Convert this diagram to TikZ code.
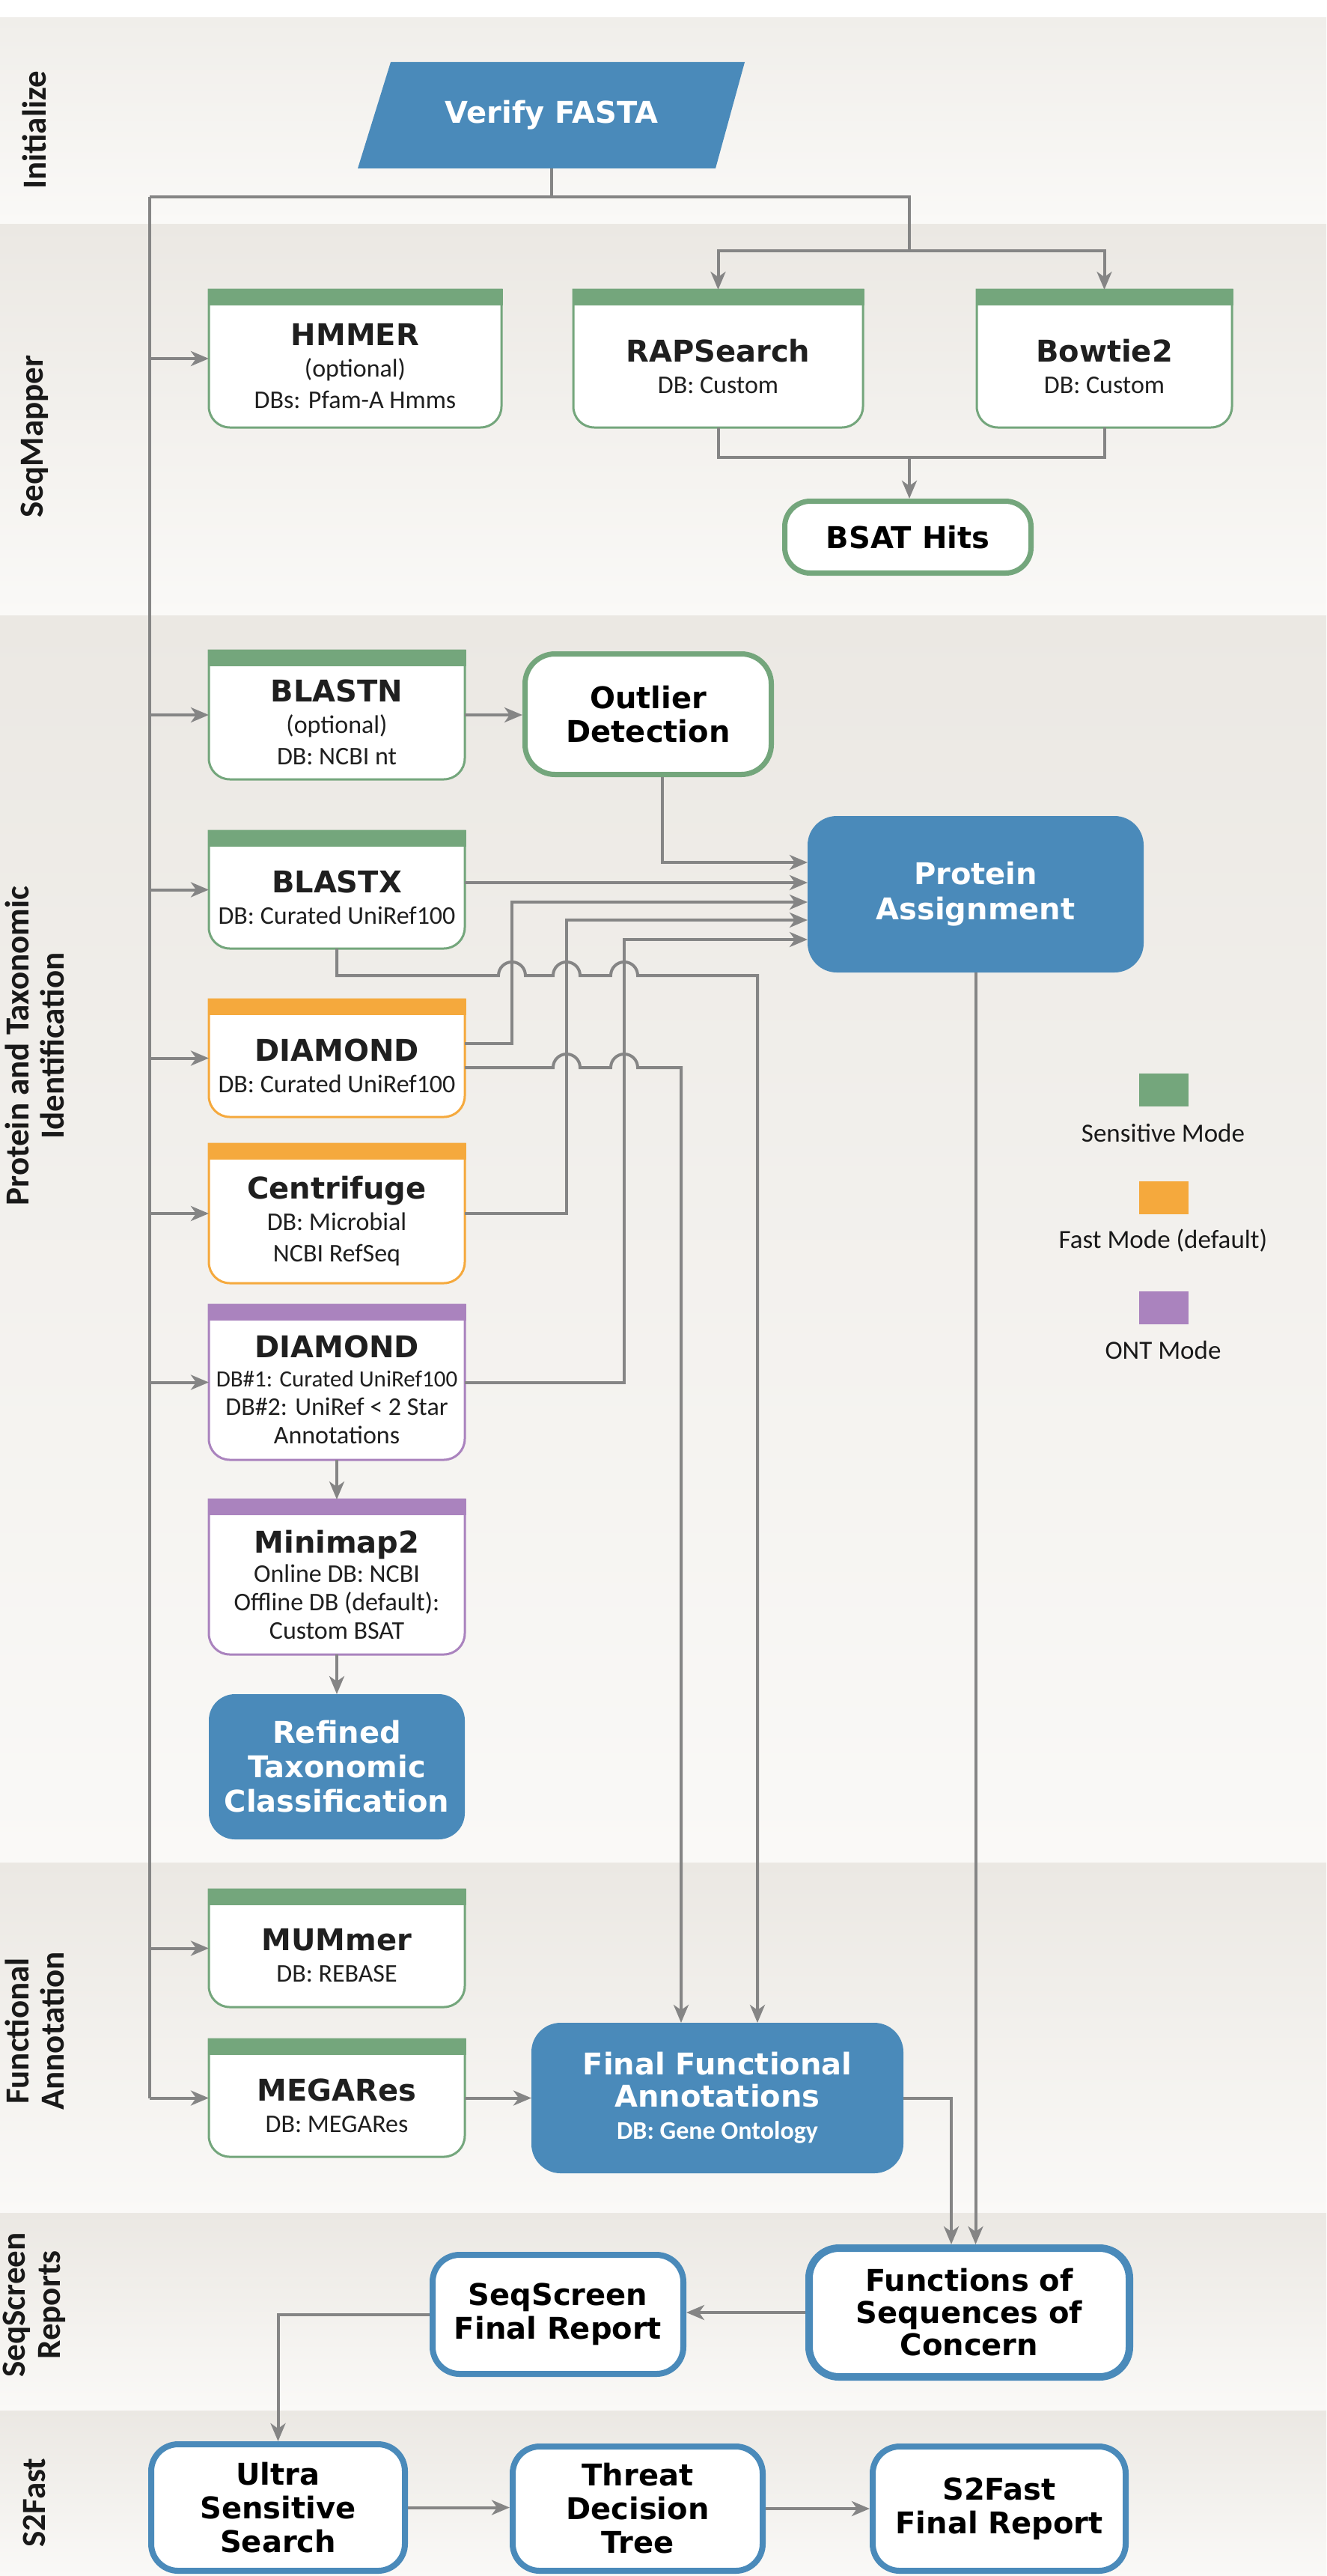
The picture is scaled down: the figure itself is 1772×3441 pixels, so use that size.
\documentclass[tikz,border=0pt]{standalone}
\usepackage{fontspec}
\usetikzlibrary{arrows.meta,calc}
\newfontfamily\titlefam{DejaVu Sans}
\newfontfamily\subfam{Carlito}
\newcommand\tfs{\titlefam\bfseries\fontsize{40pt}{45pt}\selectfont}
\newcommand\sfs{\subfam\fontsize{34pt}{42pt}\selectfont}
\newcommand\narrowsub{\subfam\fontsize{31pt}{42pt}\selectfont}
\definecolor{cgreen}{HTML}{74A67C}
\definecolor{corange}{HTML}{F5A93D}
\definecolor{cpurple}{HTML}{AA83BE}
\definecolor{cblue}{HTML}{4A8ABA}
\definecolor{cline}{HTML}{858585}
\definecolor{bandtop}{HTML}{EBE8E3}
\definecolor{bandbot}{HTML}{FAF9F7}
\definecolor{inittop}{HTML}{F0EEEA}

\tikzset{
  conn/.style={draw=cline, line width=4pt},
  arr/.style={conn, -{Stealth[length=24pt,width=20pt,inset=7pt]}},
  boxarea/.style={rectangle, draw=none, inner sep=0pt, outer sep=0pt},
  tooltext/.style={align=center, font=\sfs, text=black!88, inner sep=0pt},
  bluebox/.style={rectangle, rounded corners=38pt, fill=cblue, draw=cblue, line width=2pt, text=white, font=\tfs, align=center, inner sep=0pt},
  whitebox/.style={rectangle, rounded corners=36pt, fill=white, line width=8pt, align=center, font=\tfs, text=black, inner sep=0pt},
  bandlbl/.style={rotate=90, font=\subfam\bfseries\fontsize{45pt}{47pt}\selectfont, align=center, inner sep=0pt, text=black!90},
  legsq/.style={rectangle, minimum width=66pt, minimum height=44pt, inner sep=0pt},
  legtext/.style={font=\subfam\fontsize{35pt}{40pt}\selectfont, inner sep=0pt, text=black!90},
}

% #1 name, #2 x1, #3 y1, #4 x2, #5 y2, #6 colour, #7 text
\newcommand\toolbox[7]{%
  \path[fill=white, draw=#6, line width=3pt] (#2,#3) -- (#4,#3) -- (#4,#5-28)
     arc[start angle=0,end angle=90,radius=28] -- (#2+28,#5)
     arc[start angle=90,end angle=180,radius=28] -- cycle;
  \fill[#6] (#2-1.5,#3-1.5) rectangle (#4+1.5,#3+21);
  \node[boxarea, minimum width=#4-#2, minimum height=#5-#3] (#1) at ({(#2+#4)/2},{(#3+#5)/2}) {};
  \node[tooltext] (#1-t) at ($(#1.center)+(0,10)$) {#7};
}

\begin{document}
\begin{tikzpicture}[x=1pt,y=-1pt]
\useasboundingbox (0,0) rectangle (1772,3441);
\fill[white] (0,0) rectangle (1772,3441);
% bands
\shade[top color=inittop, bottom color=bandbot] (0,24) rectangle (1772,299);
\shade[top color=bandtop, bottom color=bandbot] (0,299) rectangle (1772,822);
\shade[top color=bandtop, bottom color=bandbot] (0,822) rectangle (1772,2488);
\shade[top color=bandtop, bottom color=bandbot] (0,2488) rectangle (1772,2956);
\shade[top color=bandtop, bottom color=bandbot] (0,2956) rectangle (1772,3220);
\shade[top color=bandtop, bottom color=bandbot] (0,3220) rectangle (1772,3441);

% band labels
\node[bandlbl] (lab-init) at (46,174) {Initialize};
\node[bandlbl] (lab-seqm) at (46,583) {SeqMapper};
\node[bandlbl] (lab-prot) at (46,1397) {Protein and Taxonomic\\Identification};
\node[bandlbl] (lab-func) at (46,2713) {Functional\\Annotation};
\node[bandlbl] (lab-rep) at (46,3079) {SeqScreen\\Reports};
\node[bandlbl] (lab-s2f) at (46,3343) {S2Fast};

% Verify FASTA
\fill[cblue] (522,83) -- (995,83) -- (956,225) -- (478,225) -- cycle;
\node[boxarea, minimum width=440pt, minimum height=142pt, text=white, font=\tfs] (verify) at (737,154) {Verify FASTA};

% tool boxes
\toolbox{hmmer}{279}{387}{670}{571}{cgreen}{{\tfs HMMER}\\(optional)\\DBs: Pfam-A Hmms}
\toolbox{rap}{766}{387}{1153}{571}{cgreen}{{\tfs RAPSearch}\\DB: Custom}
\toolbox{bow}{1305}{387}{1646}{571}{cgreen}{{\tfs Bowtie2}\\DB: Custom}
\toolbox{blastn}{279}{869}{621}{1041}{cgreen}{{\tfs BLASTN}\\(optional)\\DB: NCBI nt}
\toolbox{blastx}{279}{1110}{621}{1267}{cgreen}{{\tfs BLASTX}\\DB: Curated UniRef100}
\toolbox{diao}{279}{1335}{621}{1492}{corange}{{\tfs DIAMOND}\\DB: Curated UniRef100}
\toolbox{centri}{279}{1528}{621}{1714}{corange}{{\tfs Centrifuge}\\DB: Microbial\\NCBI RefSeq}
\toolbox{diap}{279}{1743}{621}{1950}{cpurple}{{\tfs DIAMOND}\\[-3pt]{\narrowsub DB\#1: Curated UniRef100}\\[-4pt]DB\#2: UniRef < 2 Star\\[-4pt]Annotations}
\toolbox{minimap}{279}{2003}{621}{2210}{cpurple}{{\tfs Minimap2}\\[-3pt]Online DB: NCBI\\[-4pt]Offline DB (default):\\[-4pt]Custom BSAT}
\toolbox{mummer}{279}{2524}{621}{2681}{cgreen}{{\tfs MUMmer}\\DB: REBASE}
\toolbox{megares}{279}{2724}{621}{2881}{cgreen}{{\tfs MEGARes}\\DB: MEGARes}

% other boxes
\node[whitebox, draw=cgreen, line width=7pt, rounded corners=34pt, minimum width=329pt, minimum height=96pt] (bsat) at (1213,717.5) {BSAT Hits};
\node[whitebox, draw=cgreen, line width=7pt, rounded corners=40pt, minimum width=329pt, minimum height=161pt] (outlier) at (866,954) {Outlier\\Detection};
\node[bluebox, minimum width=447pt, minimum height=207pt, font=\titlefam\bfseries\fontsize{40pt}{47pt}\selectfont] (pa) at (1303.5,1194.5) {Protein\\Assignment};
\node[bluebox, minimum width=340pt, minimum height=192pt, rounded corners=34pt, font=\titlefam\bfseries\fontsize{40pt}{46pt}\selectfont] (refined) at (450,2360) {Refined\\Taxonomic\\Classification};
\node[bluebox, minimum width=495pt, minimum height=199pt, font=\titlefam\bfseries\fontsize{40pt}{43pt}\selectfont] (ffa) at (958.5,2802.5) {Final Functional\\Annotations\\{\sfs DB: Gene Ontology}};
\node[whitebox, draw=cblue, line width=10pt, rounded corners=40pt, minimum width=428pt, minimum height=172pt, font=\titlefam\bfseries\fontsize{40pt}{43pt}\selectfont] (functions) at (1295,3089) {Functions of\\Sequences of\\Concern};
\node[whitebox, draw=cblue, minimum width=335pt, minimum height=159pt] (seqfr) at (745.5,3091.5) {SeqScreen\\Final Report};
\node[whitebox, draw=cblue, minimum width=339pt, minimum height=169pt] (ultra) at (371.5,3349.5) {Ultra\\Sensitive\\Search};
\node[whitebox, draw=cblue, minimum width=334pt, minimum height=166pt] (threat) at (852,3351) {Threat\\Decision\\Tree};
\node[whitebox, draw=cblue, minimum width=338pt, minimum height=166pt] (s2fr) at (1335,3351) {S2Fast\\Final Report};

% legend
\node[legsq, fill=cgreen] (lg1) at (1555,1456) {};
\node[legtext] (lg1t) at (1554,1513) {Sensitive Mode};
\node[legsq, fill=corange] (lg2) at (1555,1600) {};
\node[legtext] (lg2t) at (1554,1657) {Fast Mode (default)};
\node[legsq, fill=cpurple] (lg3) at (1555,1747) {};
\node[legtext] (lg3t) at (1554,1803) {ONT Mode};

% coordinates
\coordinate (trunk) at (200,263);
\coordinate (rbr) at (1215,263);
\coordinate (rsplit) at (1215,335);
\coordinate (mrg) at (1215,611);
\coordinate (y1) at (0,1152);
\coordinate (y2) at (0,1179);
\coordinate (y3) at (0,1205);
\coordinate (y4) at (0,1229);
\coordinate (y5) at (0,1255);
\coordinate (yo1) at (0,1394);
\coordinate (yo2) at (0,1426);
\coordinate (hx1) at (684,0);
\coordinate (hx2) at (757,0);
\coordinate (hx3) at (834,0);
\coordinate (vx1) at (910,1426);
\coordinate (vx2) at (1012,1303);
\coordinate (fx) at (1271,2802);

% connectors: initialize / seqmapper
\draw[conn] (verify.south) -- (verify.south |- trunk);
\draw[conn] (trunk) -- (rbr) -- (rsplit);
\draw[arr] (rsplit) -| (rap.north);
\draw[arr] (rsplit) -| (bow.north);
\draw[conn] (rap.south) |- (mrg) -| (bow.south);
\draw[arr] (mrg) -- (mrg |- bsat.north);

% trunk
\draw[conn] (trunk) -- (trunk |- megares.west);
\foreach \n in {hmmer,blastn,blastx,diao,centri,diap,mummer,megares}
  \draw[arr] (trunk |- \n.west) -- (\n.west);

% protein section
\draw[arr] (blastn.east) -- (blastn.east -| outlier.west);
\draw[arr] ($(outlier.south)+(19,0)$) |- (pa.west |- y1);
\draw[arr] (blastx.east |- y2) -- (pa.west |- y2);
\draw[arr] (diao.east |- yo1) -| (hx1 |- y3) -- (pa.west |- y3);
\draw[arr] (centri.east) -| (hx2 |- y4) -- (pa.west |- y4);
\draw[arr] (diap.east) -| (hx3 |- y5) -- (pa.west |- y5);
\draw[arr] (blastx.south) |- (666,1303) arc[start angle=180,end angle=360,radius=18]
   -- (739,1303) arc[start angle=180,end angle=360,radius=18]
   -- (816,1303) arc[start angle=180,end angle=360,radius=18]
   -- (vx2) -- (vx2 |- ffa.north);
\draw[arr] (diao.east |- yo2) -- (739,1426) arc[start angle=180,end angle=360,radius=18]
   -- (816,1426) arc[start angle=180,end angle=360,radius=18]
   -- (vx1) -- (vx1 |- ffa.north);
\draw[arr] (diap.south) -- (minimap.north);
\draw[arr] (minimap.south) -- (refined.north);

% functional / reports / s2fast
\draw[arr] (pa.south) -- (pa.south |- functions.north);
\draw[arr] (megares.east) -- (megares.east -| ffa.west);
\draw[arr] (ffa.east) -| (fx |- functions.north);
\draw[arr] (functions.west) -- (functions.west -| seqfr.east);
\draw[arr] (seqfr.west) -| (ultra.north);
\draw[arr] (ultra.east) -- (ultra.east -| threat.west);
\draw[arr] (threat.east) -- (threat.east -| s2fr.west);
\end{tikzpicture}
\end{document}
